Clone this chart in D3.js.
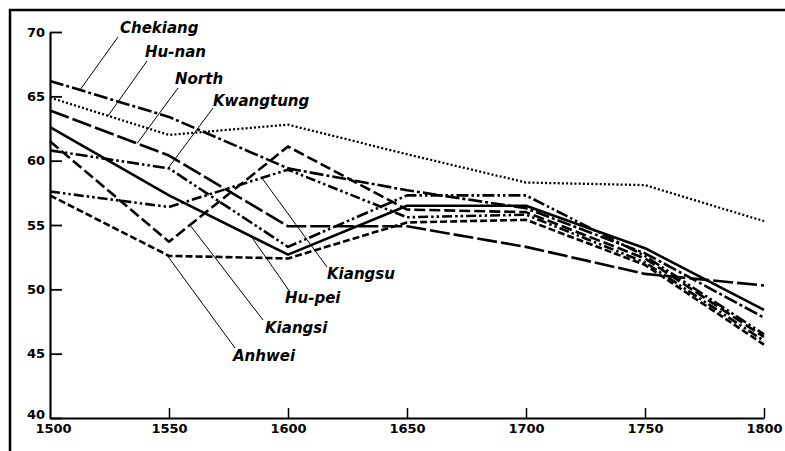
<!DOCTYPE html>
<html>
<head>
<meta charset="utf-8">
<script src="https://cdn.jsdelivr.net/npm/d3@7"></script>
<style>
  html, body { margin: 0; background: #fff; overflow: hidden; }
  svg { display: block; }
</style>
</head>
<body>
<script>
var w = 785;
var h = 451;

// DATA
var years = [1500, 1550, 1600, 1650, 1700, 1750, 1800];
var yTicks = [40, 45, 50, 55, 60, 65, 70];
var names = ["Chekiang", "Hu-nan", "North", "Kwangtung", "Kiangsu", "Hu-pei", "Kiangsi", "Anhwei"];

var chekiang  = [66.2, 63.4, 59.4, 57.7, 56.3, 52.8, 47.8];
var hunan     = [64.9, 62.0, 62.8, 60.5, 58.3, 58.1, 55.3];
var north     = [63.9, 60.4, 54.9, 54.9, 53.3, 51.2, 50.3];
var kwangtung = [60.8, 59.4, 53.3, 57.3, 57.3, 52.6, 46.5];
var kiangsu   = [57.6, 56.4, 59.3, 55.6, 55.8, 52.1, 46.0];
var hupei     = [62.6, 57.3, 52.7, 56.5, 56.5, 53.2, 48.4];
var kiangsi   = [61.5, 53.7, 61.1, 56.2, 56.0, 52.4, 46.3];
var anhwei    = [57.3, 52.6, 52.4, 55.2, 55.4, 51.9, 45.7];

var values = [chekiang, hunan, north, kwangtung, kiangsu, hupei, kiangsi, anhwei];

// year on each line where the label pointer starts
var anchorYears = [1512.6, 1524.4, 1536.6, 1549.6, 1589, 1584.5, 1558.8, 1549];

// STYLES AND LABEL LAYOUT
var dashes = ["14,3,3,3", "2,2.2", "20,4", "12,3,2.5,3,2.5,3", "10,3,2.5,3,2.5,3", null, "11,4", "7,3"];
var widths = [2.6, 2.3, 2.6, 2.6, 2.6, 2.6, 2.6, 2.6];
var labelPos = [[120, 33], [145, 57], [175, 84], [213, 106], [327, 279], [285, 303], [265, 333], [233, 361]];
var leaderEnd = [[118, 37], [147, 61], [178, 88], [213, 108], [327, 267], [290, 292], [263, 320], [235, 348]];

var svg = d3.select("body").append("svg")
  .attr("width", w)
  .attr("height", h);

// frame
svg.append("rect")
  .attr("x", 10).attr("y", 10)
  .attr("width", 820).attr("height", 480)
  .attr("fill", "none")
  .attr("stroke", "#000")
  .attr("stroke-width", 2.5);

var x = d3.scaleLinear().domain([1500, 1800]).range([50, 764]);
var y = d3.scaleLinear().domain([40, 70]).range([418, 32]);

// AXES
var gy = svg.append("g")
  .attr("transform", "translate(50,0)")
  .call(d3.axisLeft(y).tickValues(yTicks).tickFormat(d3.format("d"))
    .tickSizeInner(-12).tickSizeOuter(0).tickPadding(5));

var gx = svg.append("g")
  .attr("transform", "translate(0,418)")
  .call(d3.axisBottom(x).tickValues(years).tickFormat(d3.format("d"))
    .tickSizeInner(-10).tickSizeOuter(0).tickPadding(6));

[gx, gy].forEach(function(ax) {
  ax.attr("font-family", "'DejaVu Sans', sans-serif")
    .attr("font-size", 13)
    .attr("font-weight", "bold");
  ax.select(".domain").attr("stroke", "#000").attr("stroke-width", 2.2);
  ax.selectAll(".tick line").attr("stroke", "#000");
  ax.selectAll(".tick text").attr("fill", "#000");
});
gy.selectAll(".tick line").attr("stroke-width", 1.8);
gy.selectAll(".tick text").filter(function(d) { return d === 40; }).attr("y", -4);
gx.selectAll(".tick line").attr("stroke-width", 1.5);
gx.selectAll(".tick").filter(function(d) { return d === 1500; }).select("line").remove();
gx.selectAll(".tick text").attr("dx", function(d) { return d === 1500 ? "3" : "0"; });

// LINES
var line = d3.line()
  .x(function(d, i) { return x(years[i]); })
  .y(function(d) { return y(d); });

function valueAt(vals, yr) {
  var i = d3.bisectRight(years, yr) - 1;
  if (i >= years.length - 1) i = years.length - 2;
  var t = (yr - years[i]) / (years[i + 1] - years[i]);
  return vals[i] + t * (vals[i + 1] - vals[i]);
}

var g = svg.append("g");

names.forEach(function(name, k) {
  g.append("path")
    .attr("d", line(values[k]))
    .attr("fill", "none")
    .attr("stroke", "#000")
    .attr("stroke-width", widths[k])
    .attr("stroke-linejoin", "round")
    .attr("stroke-dasharray", dashes[k]);

  // pointer
  var ax = x(anchorYears[k]);
  var ay = y(valueAt(values[k], anchorYears[k]));
  g.append("line")
    .attr("x1", ax).attr("y1", ay)
    .attr("x2", leaderEnd[k][0]).attr("y2", leaderEnd[k][1])
    .attr("stroke", "#000")
    .attr("stroke-width", 1);

  g.append("text")
    .attr("x", labelPos[k][0])
    .attr("y", labelPos[k][1])
    .attr("font-family", "'DejaVu Sans', sans-serif")
    .attr("font-size", 15)
    .attr("font-weight", "bold")
    .attr("font-style", "italic")
    .attr("fill", "#000")
    .text(name);
});
</script>
</body>
</html>
